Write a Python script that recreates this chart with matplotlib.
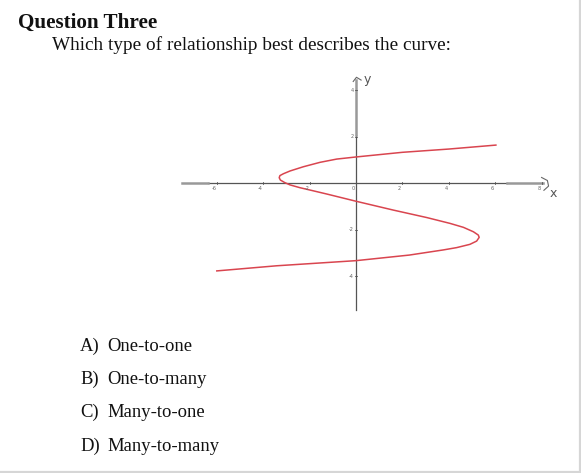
import matplotlib
matplotlib.use("Agg")
import matplotlib.pyplot as plt

# === DATOS ===
curve_x = [6.03, 4.0, 2.0, 0.0, -0.83, -1.55, -2.27, -2.84, -3.13, -3.28, -3.31,
           -3.26, -3.07, -2.84, -2.41, -1.98, -1.26, 0.0, 1.61, 3.05, 4.05, 4.63,
           5.06, 5.27, 5.31, 5.20, 4.91, 4.34, 3.76, 2.3, 0.0, -3.42, -6.0]
curve_y = [1.64, 1.47, 1.33, 1.13, 1.04, 0.90, 0.71, 0.53, 0.41, 0.33, 0.24,
           0.14, 0.03, -0.07, -0.19, -0.29, -0.46, -0.77, -1.15, -1.47, -1.72, -1.89,
           -2.08, -2.22, -2.32, -2.48, -2.62, -2.76, -2.86, -3.08, -3.32, -3.54, -3.76]

x_ticks = [-6, -4, -2, 0, 2, 4, 6, 8]
y_ticks = [4, 2, -2, -4]

title = "Question Three"
question = "Which type of relationship best describes the curve:"
option_letters = ["A)", "B)", "C)", "D)"]
option_texts = ["One-to-one", "One-to-many", "Many-to-one", "Many-to-many"]

W, H = 581, 473
fig = plt.figure(figsize=(W / 100, H / 100), dpi=100)
fig.patch.set_facecolor("white")

serif = ["Liberation Serif", "DejaVu Serif"]

# textos (posiciones de la linea base en pixeles)
fig.text(18 / W, 1 - 28 / H, title, fontsize=15.2, fontweight="bold",
         family=serif, va="baseline", ha="left", color="#111111")
fig.text(52 / W, 1 - 50.5 / H, question, fontsize=13.9, family=serif,
         va="baseline", ha="left", color="#111111")
opt_y = [351, 384, 417, 451]
for let, txt, yy in zip(option_letters, option_texts, opt_y):
    fig.text(80 / W, 1 - yy / H, let, fontsize=13.4, family=serif,
             va="baseline", ha="left", color="#111111")
    fig.text(107.5 / W, 1 - yy / H, txt, fontsize=13.4, family=serif,
             va="baseline", ha="left", color="#111111")

# borde gris (derecha y abajo)
fig.add_artist(plt.Line2D([579.5 / W, 579.5 / W], [1.5 / H, 1], color="#d6d6d6", lw=1.6))
fig.add_artist(plt.Line2D([0, 580 / W], [1.5 / H, 1.5 / H], color="#d6d6d6", lw=1.6))

# ejes del grafico: px x = 356 + 23.2*x ; px y = 183.3 - 23.3*y
x0, ux = 356.0, 23.2
y0, uy = 183.3, 23.3
px_l, px_r, px_t, px_b = 170, 575, 70, 320
ax = fig.add_axes([px_l / W, 1 - px_b / H, (px_r - px_l) / W, (px_b - px_t) / H])
ax.set_xlim((px_l - x0) / ux, (px_r - x0) / ux)
ax.set_ylim((y0 - px_b) / uy, (y0 - px_t) / uy)
ax.axis("off")

# ejes dibujados a mano
ax.plot([-6.4, 6.5], [0, 0], color="#555555", lw=0.9)
ax.plot([-7.5, -6.4], [0, 0], color="#999999", lw=1.8)
ax.plot([6.5, 8.05], [0, 0], color="#999999", lw=1.8)
ax.plot([0, 0], [-5.44, 2.07], color="#555555", lw=0.9)
ax.plot([0, 0], [2.07, 4.43], color="#999999", lw=1.8)

# marcas y etiquetas de los ticks
for t in x_ticks:
    ax.plot([t, t], [-0.04, 0.04], color="#555555", lw=0.6)
    ax.text(t - 0.12, -0.12, str(t), fontsize=3.6, color="#666666",
            ha="center", va="top")
for t in y_ticks:
    ax.plot([-0.05, 0.05], [t, t], color="#555555", lw=0.6)
    ax.text(-0.1, t, str(t), fontsize=3.6, color="#666666", ha="right", va="center")

# flechas dibujadas a mano
ax.plot([-0.12, 0.02, 0.22], [4.37, 4.55, 4.43], color="#666666", lw=0.8)
ax.text(0.35, 4.45, "y", fontsize=9, color="#555555", ha="left", va="center")
ax.plot([8.0, 8.25, 8.3, 8.1], [0.25, 0.12, -0.12, -0.3], color="#666666", lw=0.8)
ax.text(8.5, -0.45, "x", fontsize=9, color="#555555", ha="center", va="center")

# la curva
ax.plot(curve_x, curve_y, color="#d9454f", lw=1.1, solid_joinstyle="round")

fig.savefig("out.png", dpi=100, facecolor="white")
